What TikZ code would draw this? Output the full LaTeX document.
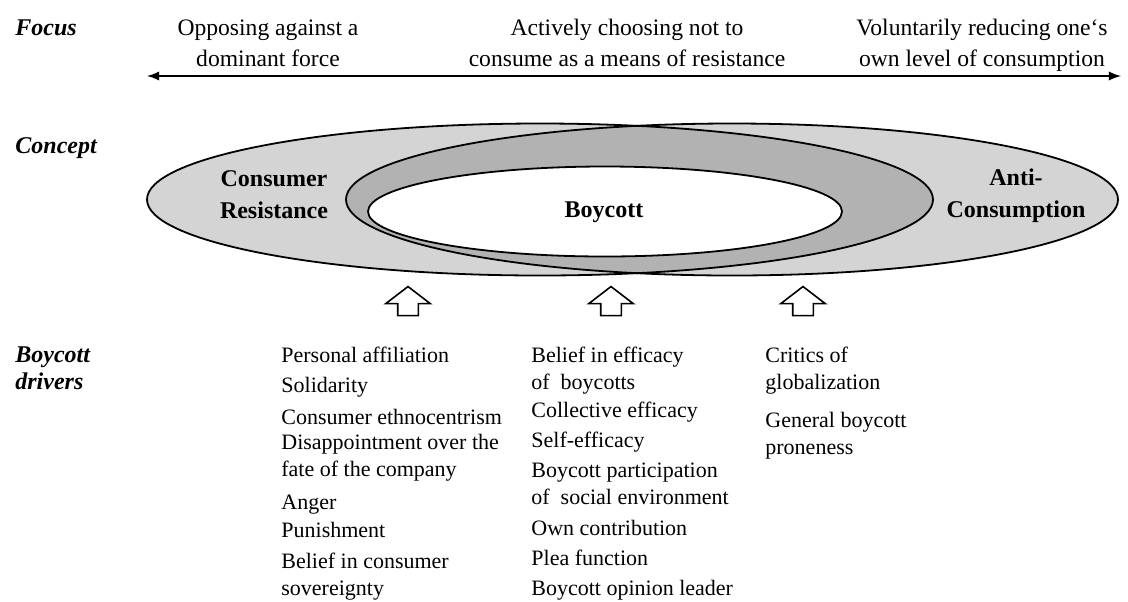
\documentclass[tikz,border=0pt]{standalone}
\usepackage{fontspec}
\setmainfont{Liberation Serif}
\usepackage{tikz}
\usetikzlibrary{positioning}
\usetikzlibrary{shapes.arrows}
\definecolor{ringgray}{gray}{0.83}
\definecolor{coregray}{gray}{0.70}

\begin{document}
\begin{tikzpicture} [x = 0.5pt, y = -0.5pt,
    rowlabel/.style = {anchor = west, align = left, inner sep = 0pt,
      font = \fontsize{12}{13.5}\selectfont\bfseries\itshape},
    focustext/.style = {align = center, font = \fontsize{11.8}{15.5}\selectfont},
    concepttext/.style = {align = center, font = \fontsize{12}{16}\selectfont\bfseries},
    driver/.style = {anchor = west, align = left, inner sep = 0pt,
      font = \fontsize{11}{13.5}\selectfont},
    uparrow/.style = {single arrow, draw, line width = 0.8pt, fill = white,
      shape border rotate = 90, minimum height = 14.5pt, single arrow tip angle = 105,
      inner xsep = 4.75pt, inner ysep = 0pt, single arrow head extend = 6pt}]
    \useasboundingbox (0,0) rectangle (1128,601);
    % row labels
    \node [rowlabel] (focus) at (15,28) {Focus};
    \node [rowlabel] (concept) at (15,148) {Concept};
    \node [rowlabel] (drivers) at (15,368.5) {Boycott\\drivers};
    % focus axis
    \node [focustext] (oppose) at (268,43) {Opposing against a\\dominant force};
    \node [focustext] (choose) at (627,43) {Actively choosing not to\\consume as a means of resistance};
    \node [focustext] (reduce) at (982,45.5) {Voluntarily reducing one‘s\\own level of consumption};
    \coordinate (axisl) at (147,76);
    \coordinate (axisr) at (1121,76);
    \draw [<->, >=latex, line width = 1.1pt] (axisl)--(axisr);
    % concepts
    \coordinate (resist) at (540,199.5);
    \coordinate (anti) at (732,199.5);
    \fill [ringgray] (resist) ellipse [x radius = 393, y radius = 76];
    \fill [ringgray] (anti) ellipse [x radius = 386, y radius = 76];
    \begin{scope}
      \clip (resist) ellipse [x radius = 393, y radius = 76];
      \fill [coregray] (anti) ellipse [x radius = 386, y radius = 76];
    \end{scope}
    \draw [line width = 0.9pt] (resist) ellipse [x radius = 393, y radius = 76];
    \draw [line width = 0.9pt] (anti) ellipse [x radius = 386, y radius = 76];
    \draw [line width = 0.9pt, fill = white] (605,211.5) ellipse [x radius = 237, y radius = 45];
    \node [concepttext] (cr) at (274,195) {Consumer\\Resistance};
    \node [concepttext] (boy) at (604,212) {Boycott};
    \node [concepttext] (ac) at (1016,196) {Anti-\\Consumption};
    % drivers
    \node [uparrow] (arr1) at (408,305) {};
    \node [uparrow] (arr2) at (611,305) {};
    \node [uparrow] (arr3) at (803,305) {};
    \node [driver] (pa) at (281,355) {Personal affiliation};
    \node [driver] (so) at (281,387) {Solidarity};
    \node [driver] (ce) at (281,417) {Consumer ethnocentrism};
    \node [driver] (da) at (281,457.5) {Disappointment over the\\fate of the company};
    \node [driver] (an) at (281,505) {Anger};
    \node [driver] (pu) at (281,530) {Punishment};
    \node [driver] (bc) at (281,576.5) {Belief in consumer\\sovereignty};
    \node [driver] (be) at (531,370.5) {Belief in efficacy\\of~ boycotts};
    \node [driver] (cf) at (531,412) {Collective efficacy};
    \node [driver] (sf) at (531,442) {Self-efficacy};
    \node [driver] (bp) at (531,483.5) {Boycott participation\\of~ social environment};
    \node [driver] (oc) at (531,528) {Own contribution};
    \node [driver] (pf) at (531,558) {Plea function};
    \node [driver] (bo) at (531,590) {Boycott opinion leader};
    \node [driver] (cg) at (765,370.5) {Critics of\\globalization};
    \node [driver] (gb) at (765,435.5) {General boycott\\proneness};
  \end{tikzpicture}
\end{document}
